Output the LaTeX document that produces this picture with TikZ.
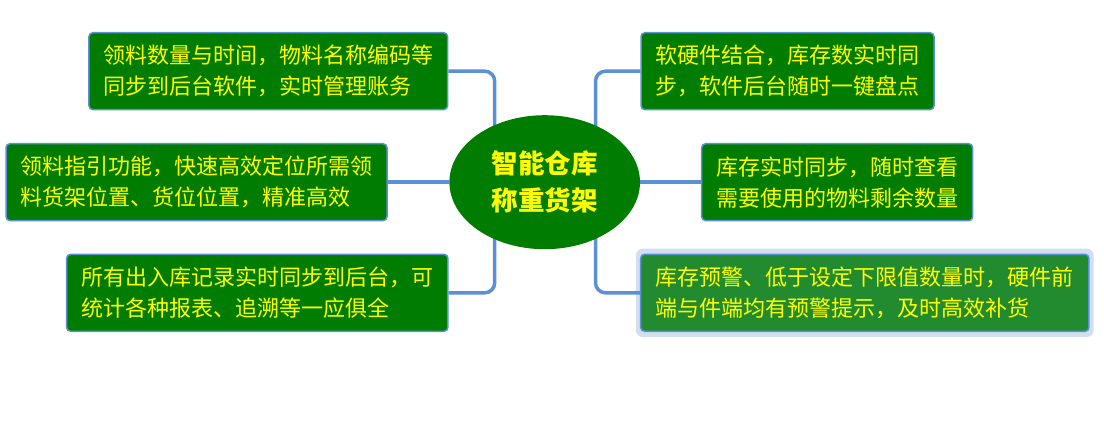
\documentclass[tikz,border=0pt]{standalone}
\usepackage{fontspec}
\newfontfamily\cjk{Noto Sans CJK SC}
\usetikzlibrary{calc,shapes.geometric}
\definecolor{boxgreen}{RGB}{0,125,0}
\definecolor{selgreen}{RGB}{34,139,48}
\definecolor{edgeblue}{RGB}{91,143,214}
\definecolor{glowblue}{RGB}{210,223,238}
\definecolor{txtyellow}{RGB}{255,255,0}
\pgfdeclarelayer{bg}
\pgfsetlayers{bg,main}
\tikzset{
  infobox/.style={draw=edgeblue, line width=1.5pt, fill=boxgreen, rounded corners=4pt,
    text=txtyellow, align=left, inner sep=0pt, minimum height=77pt,
    font=\cjk\fontsize{22pt}{31pt}\selectfont},
  selbox/.style={infobox, fill=selgreen},
  hub/.style={ellipse, fill=boxgreen, text=txtyellow, align=center, inner sep=0pt,
    minimum width=190.6pt, minimum height=134pt,
    font=\cjk\bfseries\fontsize{26.5pt}{37pt}\selectfont},
  conn/.style={draw=edgeblue, line width=3.5pt, rounded corners=10pt},
  glow/.style={fill=glowblue, rounded corners=7pt}
}
\begin{document}
\begin{tikzpicture}[x=1pt,y=-1pt]
\useasboundingbox (0,0) rectangle (1104,439);
\node[infobox, minimum width=358.7pt] (b1) at (268.3,71.2) {领料数量与时间，物料名称编码等\\同步到后台软件，实时管理账务};
\node[infobox, minimum width=381pt] (b2) at (196.5,182.2) {领料指引功能，快速高效定位所需领\\料货架位置、货位位置，精准高效};
\node[infobox, minimum width=381.3pt] (b3) at (257.3,292.8) {所有出入库记录实时同步到后台，可\\统计各种报表、追溯等一应俱全};
\node[infobox, minimum width=293pt] (b4) at (787.5,71.2) {软硬件结合，库存数实时同\\步，软件后台随时一键盘点};
\node[infobox, minimum width=271pt] (b5) at (837.2,182.2) {库存实时同步，随时查看\\需要使用的物料剩余数量};
\node[selbox, minimum width=448.3pt] (b6) at (864.8,292.8) {库存预警、低于设定下限值数量时，硬件前\\端与件端均有预警提示，及时高效补货};
\node[hub] (e) at (544.7,182.2) {智能仓库\\称重货架};
\coordinate (jl) at (494.7,182.2);
\coordinate (jr) at (595.5,182.2);
\begin{pgfonlayer}{bg}
\fill[glow] ([shift={(-4,-5)}]b6.north west) rectangle ([shift={(4,5)}]b6.south east);
\draw[conn] (b1.east) -| (jl);
\draw[conn] (b3.east) -| (jl);
\draw[conn] (b2.east) -- (e.west);
\draw[conn] (b4.west) -| (jr);
\draw[conn] (b6.west) -| (jr);
\draw[conn] (e.east) -- (b5.west);
\end{pgfonlayer}
\end{tikzpicture}
\end{document}
